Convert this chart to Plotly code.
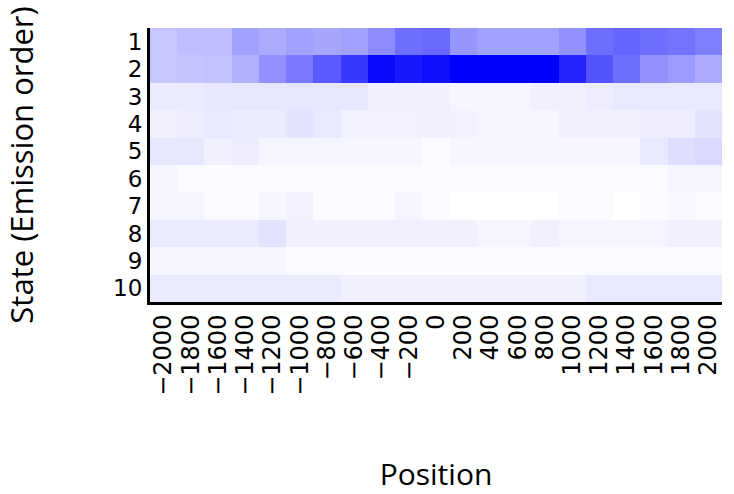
import plotly.graph_objects as go

positions = [-2000, -1800, -1600, -1400, -1200, -1000, -800, -600, -400, -200, 0,
             200, 400, 600, 800, 1000, 1200, 1400, 1600, 1800, 2000]
position_labels = [str(p).replace("-", "\u2212") for p in positions]
states = ["1", "2", "3", "4", "5", "6", "7", "8", "9", "10"]

# Emission intensity per state (rows) and position (columns), 0 = white, 1 = full blue
state_1 = [0.22, 0.25, 0.25, 0.37, 0.33, 0.37, 0.35, 0.37, 0.45, 0.57, 0.59,
           0.41, 0.37, 0.37, 0.37, 0.43, 0.57, 0.60, 0.57, 0.55, 0.50]
state_2 = [0.22, 0.23, 0.24, 0.31, 0.43, 0.53, 0.65, 0.78, 0.96, 0.90, 0.94,
           1.00, 1.00, 1.00, 1.00, 0.86, 0.67, 0.57, 0.43, 0.39, 0.33]
state_3 = [0.08, 0.08, 0.10, 0.10, 0.10, 0.10, 0.10, 0.10, 0.06, 0.06, 0.06,
           0.04, 0.04, 0.04, 0.06, 0.06, 0.07, 0.09, 0.09, 0.09, 0.09]
state_4 = [0.06, 0.07, 0.09, 0.08, 0.08, 0.11, 0.09, 0.05, 0.05, 0.05, 0.06,
           0.05, 0.04, 0.04, 0.04, 0.06, 0.06, 0.06, 0.07, 0.07, 0.11]
state_5 = [0.10, 0.10, 0.06, 0.07, 0.04, 0.04, 0.04, 0.04, 0.04, 0.04, 0.02,
           0.04, 0.04, 0.04, 0.04, 0.04, 0.04, 0.04, 0.09, 0.13, 0.15]
state_6 = [0.04, 0.02, 0.02, 0.02, 0.02, 0.02, 0.02, 0.02, 0.02, 0.02, 0.02,
           0.02, 0.02, 0.02, 0.02, 0.02, 0.02, 0.02, 0.02, 0.04, 0.04]
state_7 = [0.04, 0.04, 0.02, 0.02, 0.04, 0.05, 0.02, 0.02, 0.02, 0.04, 0.02,
           0.00, 0.00, 0.00, 0.00, 0.02, 0.02, 0.00, 0.02, 0.03, 0.02]
state_8 = [0.08, 0.08, 0.08, 0.08, 0.11, 0.06, 0.06, 0.06, 0.06, 0.06, 0.06,
           0.06, 0.04, 0.04, 0.06, 0.04, 0.04, 0.04, 0.04, 0.06, 0.06]
state_9 = [0.04, 0.04, 0.04, 0.04, 0.04, 0.02, 0.02, 0.02, 0.02, 0.02, 0.02,
           0.02, 0.02, 0.02, 0.02, 0.02, 0.02, 0.02, 0.02, 0.02, 0.02]
state_10 = [0.08, 0.08, 0.08, 0.08, 0.08, 0.08, 0.08, 0.06, 0.06, 0.06, 0.06,
            0.06, 0.06, 0.06, 0.06, 0.06, 0.09, 0.09, 0.09, 0.09, 0.09]

z = [state_1, state_2, state_3, state_4, state_5,
     state_6, state_7, state_8, state_9, state_10]

fig = go.Figure(go.Heatmap(
    z=z,
    x=position_labels,
    y=states,
    colorscale=[[0, "rgb(255,255,255)"], [1, "rgb(0,0,255)"]],
    zmin=0, zmax=1,
    showscale=False,
    xgap=0, ygap=0,
))

fig.update_layout(
    width=734, height=494,
    margin=dict(l=150, r=12, t=28, b=192),
    paper_bgcolor="white", plot_bgcolor="white",
    font=dict(family="DejaVu Sans", size=23, color="black"),
)
fig.update_xaxes(
    type="category", tickangle=-90, showline=True, linecolor="black", linewidth=3,
    ticks="", showgrid=False, zeroline=False, mirror=False, automargin=False,
    tickmode="array", tickvals=position_labels, ticktext=position_labels,
    title=dict(text="Position", font=dict(family="Open Sans", size=30), standoff=84),
    tickfont=dict(size=24),
)
fig.update_yaxes(
    type="category", autorange="reversed", showline=True, linecolor="black", linewidth=3,
    ticks="", showgrid=False, zeroline=False, automargin=False,
    tickmode="array", tickvals=states, ticktext=states,
    title=dict(text="State (Emission order)", font=dict(family="Open Sans", size=31), standoff=76),
    tickfont=dict(size=23),
)

fig.write_html("out.html")
